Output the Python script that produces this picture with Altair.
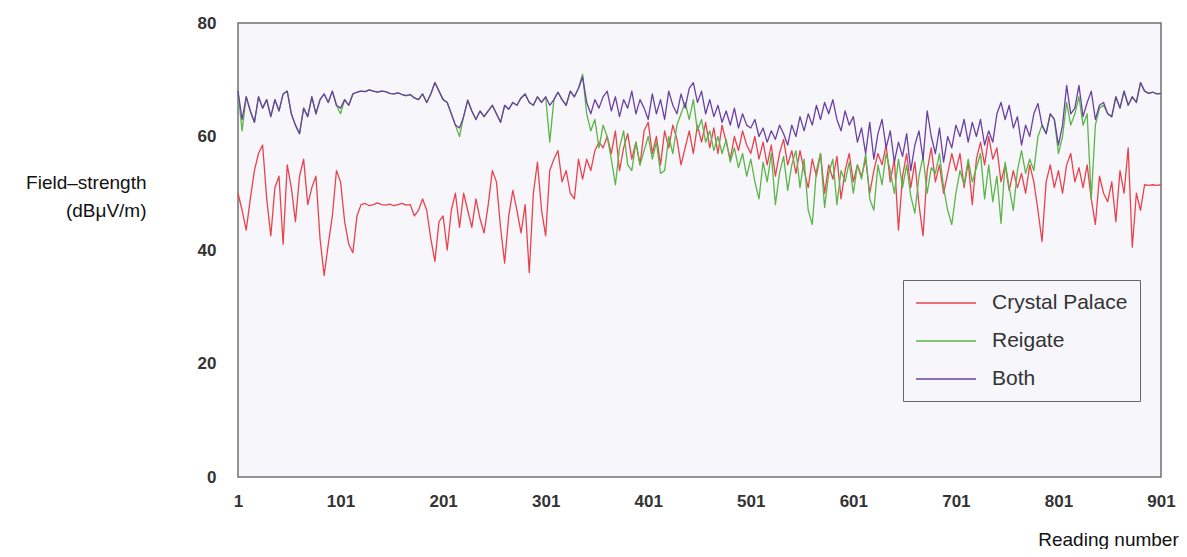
import altair as alt
import pandas as pd

# Reading numbers sampled every 4 readings (1 ... 901)
readings = list(range(1, 902, 4))

crystal_palace = [
    50, 47, 43.5, 49, 54, 57, 58.5, 49, 42.5, 51, 53, 41, 55, 51, 45, 53, 56, 48, 51, 53, 42, 35.5, 41, 46, 54,
    52, 45, 41, 39.5, 46, 48, 48.2, 47.8, 48, 48.3, 48, 47.9, 48.1, 47.8, 48, 48.2, 47.9, 48, 46, 47, 49, 47, 42, 38, 45,
    46, 40, 47, 50, 44, 50, 47, 44, 49, 45.5, 43, 48, 54, 52, 44, 37.7, 46, 50.5, 47, 43, 48, 36, 50, 55.5, 47,
    42.5, 54, 56, 57.5, 52, 54, 50, 49, 56, 52.5, 56, 54, 57.5, 59, 58, 60, 57, 61, 54, 58, 60.5, 56, 59, 55, 61,
    62.5, 57, 60, 55, 61, 58, 62, 59.5, 55, 58, 61, 57, 62, 59, 62.5, 58, 61.5, 57, 62, 59, 56, 60, 57.5, 61, 58.5,
    57, 60, 56, 59, 55, 58.5, 53, 57, 59.5, 55, 57.5, 53.5, 57.5, 54, 51, 56, 53, 57, 50, 55, 52.5, 56.5, 49, 54, 57,
    52, 55, 53, 56, 50, 54, 57, 55, 58.5, 52, 56, 43.5, 53, 57, 51, 55.5, 48, 42.5, 54, 58, 52, 55, 50, 53.5, 57,
    54, 57, 51, 55.5, 48, 56, 59, 55, 60, 56, 58, 52, 55, 50.5, 54, 51, 53.5, 50, 55, 52, 47, 41.5, 52, 55, 51,
    54, 50, 55, 57, 52, 54.5, 51, 55, 49, 44.5, 53, 50, 48.5, 52, 45, 54, 50, 58, 40.5, 50, 47, 51.5, 51.4, 51.5, 51.4, 51.5,
]

reigate = [
    68, 61, 67, 64.5, 62.5, 67, 65, 66.5, 63.5, 66.5, 64.5, 67.5, 68, 64, 62, 60.5, 65, 63.5, 67, 64, 66.5, 67.5, 66, 68, 65.5,
    64, 66.5, 65.5, 67.5, 67.8, 68, 67.9, 68.2, 68, 67.8, 68, 67.9, 67.6, 67.5, 67.7, 67.4, 67.2, 67.4, 66.8, 66.5, 67.5, 66, 67.5, 69.5, 68,
    66.5, 66, 64, 62, 60, 63.5, 66.4, 64.5, 63, 64.5, 63.5, 64.5, 65.5, 64, 62.5, 65.5, 64.8, 66, 65.5, 66.8, 67.5, 66, 65.5, 67, 66,
    67, 59, 66.5, 67.8, 66.5, 65.5, 68, 67, 68.5, 71, 64, 61, 63, 58, 62, 60, 56, 51.5, 58, 61, 55, 54, 59, 55, 57.5,
    60, 56, 59, 53.5, 54, 60, 57, 62, 64, 66, 63, 66.5, 61, 63, 59, 61, 57.5, 60, 57, 59.5, 55.5, 58, 54.5, 57, 53,
    56, 52, 49, 55.5, 52, 57, 48, 53.5, 56.5, 50.5, 55, 57.5, 51, 56, 47, 44.5, 54, 57, 47.5, 53.5, 56, 48, 54, 52, 55.5,
    50, 55, 52.5, 57, 49, 47, 55, 51.5, 57, 54, 50, 56, 51, 55, 49.5, 46.5, 53, 56.5, 50, 54.5, 53.5, 57, 51, 47, 44.5,
    50, 54, 51.5, 56, 52, 54.5, 57, 49, 55, 48.5, 53, 44.7, 55.5, 51, 47, 54, 57.5, 53.5, 56, 54, 60, 62, 60.5, 64, 63,
    57, 60, 66, 62, 64, 67, 62, 64, 49, 62, 65, 65.5, 64, 63.5, 67, 65, 68, 65.5, 67, 66, 69.5, 68, 67.6, 67.8, 67.5, 67.6,
]

both = [
    68, 63, 67, 64.5, 62.5, 67, 65, 66.5, 63.5, 66.5, 64.5, 67.5, 68, 64, 62, 60.5, 65, 63.5, 67, 64, 66.5, 67.5, 66, 68, 65.5,
    65, 66.5, 65.5, 67.5, 67.8, 68, 67.9, 68.2, 68, 67.8, 68, 67.9, 67.6, 67.5, 67.7, 67.4, 67.2, 67.4, 66.8, 66.5, 67.5, 66, 67.5, 69.5, 68,
    66.5, 66, 64, 62, 61.5, 63.5, 66.4, 64.5, 63, 64.5, 63.5, 64.5, 65.5, 64, 62.5, 65.5, 64.8, 66, 65.5, 66.8, 67.5, 66, 65.5, 67, 66,
    67, 65.5, 66.5, 67.8, 66.5, 65.5, 68, 67, 68.5, 70.5, 66, 64, 66.5, 65, 67, 68, 64.5, 67, 63.5, 66.5, 65, 68, 64, 66.5, 65,
    63, 67.5, 64, 66.5, 63, 68, 65.5, 64, 67.5, 65, 68.5, 69.5, 66, 68, 64, 66.5, 63.5, 65.5, 62.5, 64.5, 62, 65, 61.5, 64, 62,
    61.5, 63, 60, 61.5, 59, 61, 59.5, 62, 60.5, 58.5, 62, 60, 63.5, 61, 64, 62, 65.5, 63, 66, 64, 66.5, 63, 61, 64.5, 62,
    63.5, 59, 61.5, 57, 62.5, 56, 60.5, 63, 58, 61, 55.5, 59, 56.5, 60.5, 54, 58.5, 61, 56, 64.5, 60, 57, 61.5, 55.5, 60, 58,
    62, 60, 63, 59, 62.5, 60, 63, 58.5, 61, 59, 64, 66, 63, 65.5, 61.5, 63.5, 58.5, 62, 60, 64, 65.8, 62, 60.5, 64, 63,
    58.5, 62, 69, 64, 65, 69, 63.5, 66, 68, 63, 65.5, 66, 64, 63.5, 67, 65, 68, 65.5, 67, 66, 69.5, 68, 67.6, 67.8, 67.5, 67.6,
]

series_names = ["Crystal Palace", "Reigate", "Both"]
series_colors = ["#e8434c", "#5cb548", "#6a40a4"]
x_ticks = [1, 101, 201, 301, 401, 501, 601, 701, 801, 901]
y_ticks = [0, 20, 40, 60, 80]

rows = []
for name, vals in zip(series_names, [crystal_palace, reigate, both]):
    for r, v in zip(readings, vals):
        rows.append({"series": name, "reading": r, "value": v})
df = pd.DataFrame(rows)

color = alt.Color(
    "series:N",
    scale=alt.Scale(domain=series_names, range=series_colors),
    legend=alt.Legend(
        title=None,
        orient="none",
        legendX=665,
        legendY=257,
        symbolType="M-1,0H5",
        symbolSize=400,
        symbolStrokeWidth=1.5,
        labelOffset=55,
        rowPadding=17,
        padding=12,
        strokeColor="#666666",
        fillColor="#f7f6fb",
        labelFontSize=21,
        labelFont="Liberation Sans",
        labelColor="#333333",
    ),
)

base = alt.Chart(df).encode(
    x=alt.X(
        "reading:Q",
        scale=alt.Scale(domain=[1, 901], nice=False, zero=False),
        axis=alt.Axis(
            values=x_ticks,
            title="Reading number",
            labelPadding=16,
            labelFlush=False,
            titleX=870,
            titleY=68,
            titleAlign="center",
            titleBaseline="alphabetic",
        ),
    ),
    y=alt.Y(
        "value:Q",
        scale=alt.Scale(domain=[0, 80], nice=False),
        axis=alt.Axis(
            values=y_ticks,
            title=["Field–strength", "(dBμV/m)"],
            labelPadding=22,
            titleAngle=0,
            titleAlign="right",
            titleX=-92,
            titleY=165,
            titleBaseline="alphabetic",
            titleLineHeight=28,
        ),
    ),
    color=color,
)

layers = [
    base.transform_filter(alt.datum.series == n).mark_line(strokeWidth=1.3, strokeJoin="round")
    for n in series_names
]

chart = (
    alt.layer(*layers)
    .properties(
        width=923,
        height=454,
        padding={"left": 230, "top": 15, "right": 18, "bottom": 72},
        autosize=alt.AutoSizeParams(type="none"),
        background="white",
    )
    .configure_view(fill="#f7f6fb", stroke="#707070", strokeWidth=1.5)
    .configure_axis(
        grid=False,
        domain=False,
        ticks=False,
        labelFont="Liberation Sans",
        labelFontSize=17,
        labelFontWeight="bold",
        labelColor="#333333",
        titleFont="Liberation Sans",
        titleFontSize=19,
        titleFontWeight="normal",
        titleColor="#111111",
    )
)

chart.save("out.html", embed_options={"renderer": "svg", "actions": False})
